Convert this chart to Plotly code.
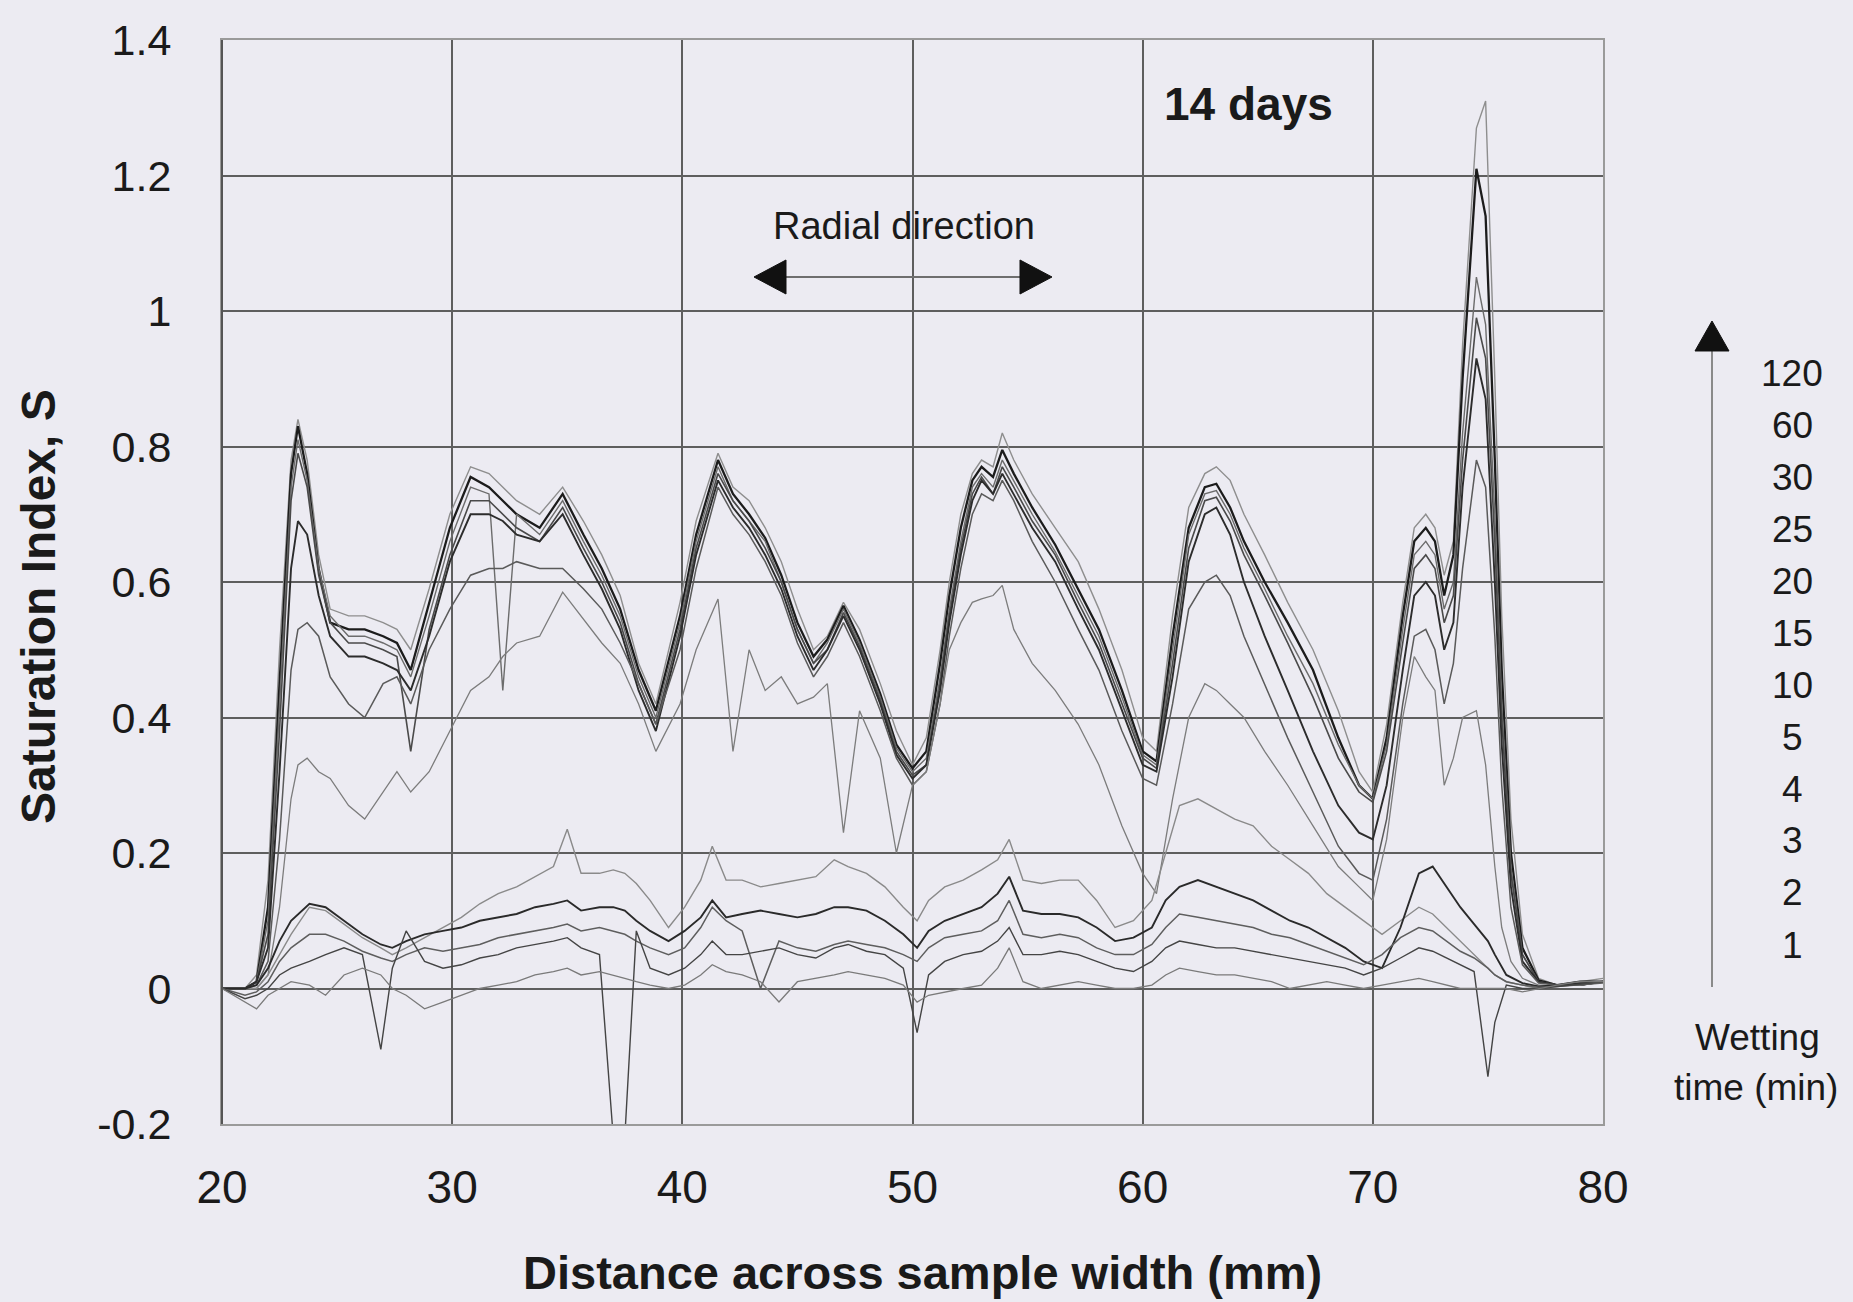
import plotly.graph_objects as go

# ---------------- data ----------------
# shared x grid for the seven upper (long wetting time) profiles, mm
x_upper = [20, 21, 21.5, 22, 22.5, 23, 23.3, 23.7, 24.2, 24.7,
           25.5, 26.2, 27, 27.6, 28.2, 29, 29.9, 30.8, 31.6, 32.2,
           32.8, 33.8, 34.8, 35.7, 36.5, 37.3, 38.1, 38.85, 39.9, 40.6,
           41.55, 42.2, 42.9, 43.6, 44.3, 45, 45.7, 46.3, 47.0, 47.7,
           48.6, 49.3, 50.0, 50.6, 51.2, 51.6, 52.1, 52.6, 53.0, 53.5,
           53.9, 54.4, 55.2, 56.2, 57.2, 58.1, 59.1, 60.0, 60.6, 61.3,
           62.0, 62.7, 63.2, 63.8, 64.4, 65.3, 66.3, 67.4, 68.5, 69.4,
           70.0, 70.6, 71.3, 71.8, 72.3, 72.7, 73.1, 73.5, 73.9, 74.5,
           74.9, 75.3, 75.6, 76.0, 76.5, 77.2, 78, 79, 80]

s_120 = [0.00, 0.00, 0.02, 0.16, 0.50, 0.78, 0.84, 0.78, 0.64, 0.56,
         0.55, 0.55, 0.54, 0.53, 0.50, 0.59, 0.70, 0.77, 0.76, 0.74,
         0.72, 0.70, 0.74, 0.69, 0.64, 0.58, 0.48, 0.42, 0.57, 0.69,
         0.79, 0.74, 0.72, 0.68, 0.63, 0.56, 0.50, 0.52, 0.57, 0.53,
         0.45, 0.38, 0.33, 0.37, 0.50, 0.60, 0.70, 0.76, 0.78, 0.77,
         0.82, 0.78, 0.73, 0.68, 0.63, 0.56, 0.47, 0.37, 0.35, 0.55,
         0.71, 0.76, 0.77, 0.75, 0.70, 0.64, 0.57, 0.50, 0.41, 0.32,
         0.29, 0.39, 0.57, 0.68, 0.70, 0.68, 0.61, 0.66, 0.95, 1.27,
         1.31, 0.90, 0.55, 0.25, 0.08, 0.015, 0.005, 0.01, 0.015]

s_60 = [0.00, 0.00, 0.01, 0.12, 0.45, 0.76, 0.83, 0.76, 0.62, 0.54,
        0.53, 0.53, 0.52, 0.51, 0.47, 0.57, 0.68, 0.755, 0.74, 0.72,
        0.70, 0.68, 0.73, 0.67, 0.62, 0.56, 0.47, 0.41, 0.55, 0.67,
        0.78, 0.73, 0.70, 0.665, 0.61, 0.54, 0.49, 0.515, 0.565, 0.515,
        0.435, 0.36, 0.325, 0.35, 0.48, 0.58, 0.68, 0.75, 0.77, 0.755,
        0.795, 0.76, 0.71, 0.655, 0.59, 0.53, 0.44, 0.35, 0.335, 0.52,
        0.68, 0.74, 0.745, 0.71, 0.66, 0.60, 0.54, 0.47, 0.37, 0.30,
        0.28, 0.37, 0.55, 0.66, 0.68, 0.66, 0.58, 0.64, 0.90, 1.21,
        1.14, 0.78, 0.47, 0.20, 0.06, 0.012, 0.005, 0.01, 0.01]

s_30 = [0.00, 0.00, 0.01, 0.10, 0.42, 0.74, 0.81, 0.75, 0.62, 0.55,
        0.52, 0.52, 0.51, 0.50, 0.46, 0.55, 0.66, 0.74, 0.73, 0.44,
        0.70, 0.67, 0.72, 0.66, 0.61, 0.55, 0.46, 0.40, 0.54, 0.66,
        0.77, 0.72, 0.69, 0.66, 0.60, 0.53, 0.48, 0.51, 0.56, 0.51,
        0.43, 0.355, 0.32, 0.34, 0.46, 0.56, 0.66, 0.74, 0.76, 0.74,
        0.78, 0.75, 0.70, 0.645, 0.58, 0.52, 0.43, 0.345, 0.33, 0.50,
        0.67, 0.73, 0.735, 0.70, 0.65, 0.59, 0.52, 0.45, 0.36, 0.30,
        0.28, 0.36, 0.53, 0.64, 0.66, 0.64, 0.56, 0.60, 0.82, 1.05,
        0.98, 0.70, 0.42, 0.18, 0.05, 0.01, 0.005, 0.005, 0.01]

s_25 = [0.00, 0.00, 0.01, 0.08, 0.38, 0.72, 0.79, 0.74, 0.61, 0.54,
        0.51, 0.51, 0.50, 0.49, 0.35, 0.53, 0.64, 0.72, 0.72, 0.70,
        0.68, 0.66, 0.71, 0.65, 0.60, 0.54, 0.45, 0.39, 0.53, 0.65,
        0.76, 0.72, 0.69, 0.65, 0.60, 0.53, 0.48, 0.50, 0.555, 0.505,
        0.425, 0.35, 0.315, 0.33, 0.45, 0.55, 0.65, 0.73, 0.755, 0.73,
        0.77, 0.74, 0.69, 0.64, 0.57, 0.51, 0.42, 0.34, 0.325, 0.48,
        0.65, 0.72, 0.725, 0.69, 0.64, 0.58, 0.51, 0.43, 0.34, 0.29,
        0.275, 0.35, 0.51, 0.62, 0.64, 0.62, 0.54, 0.58, 0.78, 0.99,
        0.93, 0.66, 0.40, 0.17, 0.05, 0.01, 0.005, 0.005, 0.01]

s_20 = [0.00, 0.00, 0.01, 0.06, 0.32, 0.62, 0.69, 0.67, 0.58, 0.52,
        0.49, 0.49, 0.48, 0.47, 0.44, 0.52, 0.63, 0.70, 0.70, 0.69,
        0.67, 0.66, 0.70, 0.64, 0.59, 0.53, 0.44, 0.38, 0.52, 0.64,
        0.75, 0.71, 0.68, 0.64, 0.59, 0.52, 0.47, 0.50, 0.55, 0.50,
        0.42, 0.345, 0.31, 0.33, 0.44, 0.54, 0.64, 0.72, 0.75, 0.73,
        0.76, 0.73, 0.68, 0.63, 0.56, 0.50, 0.41, 0.33, 0.32, 0.46,
        0.63, 0.70, 0.71, 0.67, 0.60, 0.52, 0.44, 0.35, 0.27, 0.23,
        0.22, 0.30, 0.47, 0.58, 0.60, 0.58, 0.50, 0.54, 0.74, 0.93,
        0.87, 0.60, 0.36, 0.15, 0.04, 0.01, 0.005, 0.005, 0.01]

s_15 = [0.00, 0.00, 0.005, 0.04, 0.22, 0.47, 0.53, 0.54, 0.52, 0.46,
        0.42, 0.40, 0.45, 0.46, 0.42, 0.50, 0.56, 0.61, 0.62, 0.62,
        0.63, 0.62, 0.62, 0.59, 0.56, 0.51, 0.45, 0.39, 0.50, 0.62,
        0.74, 0.70, 0.67, 0.63, 0.58, 0.51, 0.46, 0.49, 0.54, 0.49,
        0.41, 0.34, 0.30, 0.32, 0.42, 0.52, 0.62, 0.70, 0.73, 0.72,
        0.75, 0.72, 0.66, 0.60, 0.53, 0.47, 0.38, 0.31, 0.30, 0.42,
        0.56, 0.60, 0.61, 0.58, 0.52, 0.45, 0.37, 0.29, 0.21, 0.17,
        0.16, 0.25, 0.42, 0.52, 0.53, 0.50, 0.42, 0.48, 0.62, 0.78,
        0.74, 0.52, 0.30, 0.12, 0.035, 0.008, 0.005, 0.005, 0.01]

s_10 = [0.00, 0.00, 0.00, 0.02, 0.12, 0.28, 0.33, 0.34, 0.32, 0.31,
        0.27, 0.25, 0.29, 0.32, 0.29, 0.32, 0.38, 0.44, 0.46, 0.49,
        0.51, 0.52, 0.585, 0.545, 0.51, 0.48, 0.42, 0.35, 0.42, 0.50,
        0.575, 0.35, 0.50, 0.44, 0.46, 0.42, 0.43, 0.45, 0.23, 0.41,
        0.34, 0.20, 0.30, 0.32, 0.42, 0.50, 0.54, 0.57, 0.575, 0.58,
        0.595, 0.53, 0.48, 0.44, 0.39, 0.33, 0.24, 0.17, 0.14, 0.28,
        0.40, 0.45, 0.44, 0.42, 0.40, 0.35, 0.30, 0.24, 0.18, 0.15,
        0.13, 0.22, 0.40, 0.49, 0.46, 0.44, 0.30, 0.34, 0.40, 0.41,
        0.33, 0.18, 0.09, 0.04, 0.015, 0.005, 0.005, 0.005, 0.01]

# shared x grid for the five lower (short wetting time) profiles, mm
x_lower = [20, 21, 21.5, 22, 22.5, 23, 23.8, 24.5, 25.3, 26.1,
           26.9, 27.4, 28, 28.8, 29.6, 30.4, 31.2, 32, 32.8, 33.6,
           34.4, 35, 35.6, 36.4, 37.0, 37.5, 38.0, 38.6, 39.4, 40.1,
           40.8, 41.3, 41.9, 42.6, 43.4, 44.2, 45, 45.8, 46.6, 47.2,
           48, 48.8, 49.6, 50.2, 50.7, 51.4, 52.2, 53, 53.7, 54.2,
           54.8, 55.6, 56.4, 57.2, 58, 58.8, 59.6, 60.4, 61, 61.6,
           62.4, 63.2, 64, 64.8, 65.6, 66.4, 67.2, 68, 68.8, 69.6,
           70.4, 71.2, 72, 72.6, 73.2, 73.8, 74.4, 75.0, 75.3, 75.8,
           76.5, 77.2, 78, 79, 80]

s_5 = [0.0, 0.0, 0.0, 0.02, 0.05, 0.08, 0.12, 0.115, 0.095, 0.075,
       0.06, 0.05, 0.06, 0.075, 0.09, 0.105, 0.125, 0.14, 0.15, 0.165,
       0.18, 0.235, 0.17, 0.17, 0.175, 0.17, 0.155, 0.13, 0.09, 0.12,
       0.16, 0.21, 0.16, 0.16, 0.15, 0.155, 0.16, 0.165, 0.19, 0.18,
       0.17, 0.15, 0.12, 0.10, 0.13, 0.15, 0.16, 0.175, 0.19, 0.22,
       0.16, 0.155, 0.16, 0.16, 0.13, 0.09, 0.10, 0.13, 0.20, 0.27,
       0.28, 0.265, 0.25, 0.24, 0.21, 0.19, 0.17, 0.14, 0.12, 0.10,
       0.08, 0.10, 0.12, 0.11, 0.09, 0.07, 0.05, 0.03, 0.02, 0.01,
       0.005, 0.0, 0.005, 0.01, 0.01]

s_4 = [0.0, 0.0, 0.005, 0.03, 0.07, 0.10, 0.125, 0.12, 0.10, 0.08,
       0.065, 0.06, 0.07, 0.08, 0.085, 0.09, 0.10, 0.105, 0.11, 0.12,
       0.125, 0.13, 0.115, 0.12, 0.12, 0.115, 0.10, 0.085, 0.07, 0.085,
       0.105, 0.13, 0.105, 0.11, 0.115, 0.11, 0.105, 0.11, 0.12, 0.12,
       0.115, 0.10, 0.08, 0.06, 0.085, 0.10, 0.11, 0.12, 0.14, 0.165,
       0.115, 0.11, 0.11, 0.105, 0.09, 0.07, 0.075, 0.09, 0.13, 0.15,
       0.16, 0.15, 0.14, 0.13, 0.115, 0.10, 0.09, 0.075, 0.06, 0.04,
       0.03, 0.09, 0.17, 0.18, 0.15, 0.12, 0.095, 0.07, 0.05, 0.02,
       0.008, 0.003, 0.005, 0.008, 0.01]

s_3 = [0.0, -0.01, -0.005, 0.01, 0.04, 0.06, 0.08, 0.08, 0.07, 0.055,
       0.045, 0.04, 0.05, 0.06, 0.055, 0.06, 0.065, 0.075, 0.08, 0.085,
       0.09, 0.095, 0.085, 0.09, 0.085, 0.08, 0.07, 0.06, 0.05, 0.06,
       0.09, 0.12, 0.10, 0.085, 0.0, 0.07, 0.06, 0.055, 0.065, 0.07,
       0.065, 0.06, 0.05, 0.04, 0.06, 0.075, 0.08, 0.085, 0.10, 0.13,
       0.08, 0.075, 0.08, 0.075, 0.06, 0.05, 0.05, 0.065, 0.09, 0.11,
       0.105, 0.10, 0.095, 0.09, 0.08, 0.075, 0.065, 0.055, 0.045, 0.035,
       0.05, 0.075, 0.09, 0.085, 0.07, 0.055, 0.045, 0.03, 0.02, 0.01,
       0.005, 0.002, 0.003, 0.005, 0.008]

s_2 = [0.0, -0.015, -0.01, 0.0, 0.02, 0.03, 0.04, 0.05, 0.06, 0.05,
       -0.09, 0.03, 0.085, 0.04, 0.03, 0.035, 0.045, 0.05, 0.06, 0.065,
       0.07, 0.075, 0.06, 0.05, -0.22, -0.22, 0.085, 0.03, 0.02, 0.03,
       0.05, 0.07, 0.05, 0.05, 0.055, 0.06, 0.05, 0.045, 0.06, 0.065,
       0.055, 0.05, 0.03, -0.065, 0.02, 0.04, 0.05, 0.055, 0.07, 0.09,
       0.05, 0.05, 0.055, 0.05, 0.04, 0.03, 0.025, 0.04, 0.06, 0.07,
       0.065, 0.06, 0.06, 0.055, 0.05, 0.045, 0.04, 0.035, 0.03, 0.02,
       0.03, 0.045, 0.06, 0.055, 0.045, 0.035, 0.025, -0.13, -0.05, 0.005,
       0.0, 0.0, 0.003, 0.006, 0.01]

s_1 = [0.0, -0.02, -0.03, -0.01, 0.0, 0.01, 0.005, -0.01, 0.02, 0.03,
       0.02, 0.0, -0.01, -0.03, -0.02, -0.01, 0.0, 0.005, 0.01, 0.02,
       0.025, 0.03, 0.02, 0.025, 0.02, 0.015, 0.01, 0.005, 0.0, 0.005,
       0.02, 0.035, 0.025, 0.02, 0.01, -0.02, 0.01, 0.015, 0.02, 0.025,
       0.02, 0.015, 0.005, -0.02, -0.01, -0.005, 0.0, 0.005, 0.03, 0.06,
       0.01, 0.0, 0.005, 0.01, 0.005, 0.0, 0.0, 0.005, 0.02, 0.03,
       0.025, 0.02, 0.02, 0.015, 0.01, 0.0, 0.005, 0.01, 0.005, 0.0,
       0.005, 0.01, 0.015, 0.01, 0.005, 0.0, 0.0, 0.0, 0.0, 0.0,
       -0.005, 0.0, 0.005, 0.01, 0.01]

wetting_labels = ["120", "60", "30", "25", "20", "15", "10", "5", "4", "3", "2", "1"]
x_ticks = [20, 30, 40, 50, 60, 70, 80]
y_ticks = [-0.2, 0, 0.2, 0.4, 0.6, 0.8, 1, 1.2, 1.4]
y_tick_text = ["-0.2", "0", "0.2", "0.4", "0.6", "0.8", "1", "1.2", "1.4"]

# ---------------- styling ----------------
series = [
    ("120", x_upper, s_120, "#8e8e8e", 1.4),
    ("60", x_upper, s_60, "#1c1c1c", 2.3),
    ("30", x_upper, s_30, "#6c6c6c", 1.4),
    ("25", x_upper, s_25, "#4a4a4a", 1.6),
    ("20", x_upper, s_20, "#2c2c2c", 1.9),
    ("15", x_upper, s_15, "#5a5a5a", 1.5),
    ("10", x_upper, s_10, "#7c7c7c", 1.3),
    ("5", x_lower, s_5, "#8a8a8a", 1.4),
    ("4", x_lower, s_4, "#2a2a2a", 1.9),
    ("3", x_lower, s_3, "#5e5e5e", 1.5),
    ("2", x_lower, s_2, "#444444", 1.4),
    ("1", x_lower, s_1, "#7a7a7a", 1.3),
]

BG = "#ecebf2"
FONT = "Liberation Sans, Arial, sans-serif"
TXT = "#1a1a1a"

W, H = 1853, 1302
L, R, T, B = 222, 1603, 40, 1124


def px(x):
    return (x - L) / (R - L)


def py(y):
    return (B - y) / (B - T)


fig = go.Figure()
for name, xs, ys, col, wd in series:
    fig.add_trace(go.Scatter(x=xs, y=ys, mode="lines", name=name + " min",
                             line=dict(color=col, width=wd),
                             hoverinfo="skip", showlegend=False))

fig.update_layout(
    width=W, height=H,
    margin=dict(l=L, r=W - R, t=T, b=H - B, pad=0),
    paper_bgcolor=BG, plot_bgcolor=BG,
    font=dict(family=FONT, color=TXT),
    showlegend=False,
)
fig.update_xaxes(range=[20, 80], tickvals=x_ticks, ticktext=[str(v) for v in x_ticks],
                 showgrid=True, gridcolor="#5e5e5e", gridwidth=1.6,
                 zeroline=False, showline=True, linecolor="#9a9a9a", linewidth=2, mirror=True,
                 ticks="", tickfont=dict(size=46, family=FONT, color=TXT),
                 ticklabelstandoff=22)
fig.update_yaxes(range=[-0.2, 1.4], tickvals=y_ticks, ticktext=y_tick_text,
                 showgrid=True, gridcolor="#5e5e5e", gridwidth=1.6,
                 zeroline=False, showline=True, linecolor="#9a9a9a", linewidth=2, mirror=True,
                 ticks="", tickfont=dict(size=43, family=FONT, color=TXT),
                 ticklabelstandoff=40)

# left border is dark in the original
fig.add_shape(type="line", xref="paper", yref="paper", x0=0, x1=0, y0=0, y1=1,
              line=dict(color="#555555", width=2))

ann = []
# axis titles
ann.append(dict(text="<b>Saturation Index, S</b>", xref="paper", yref="paper",
                x=px(38), y=py(607), textangle=-90, showarrow=False,
                font=dict(size=48, family=FONT, color=TXT),
                xanchor="center", yanchor="middle"))
ann.append(dict(text="<b>Distance across sample width (mm)</b>", xref="paper", yref="paper",
                x=px(922), y=py(1272), showarrow=False,
                font=dict(size=47, family=FONT, color=TXT),
                xanchor="center", yanchor="middle"))
ann.append(dict(text="<b>14 days</b>", xref="paper", yref="paper",
                x=px(1248), y=py(104), showarrow=False,
                font=dict(size=46, family=FONT, color=TXT),
                xanchor="center", yanchor="middle"))
ann.append(dict(text="Radial direction", xref="paper", yref="paper",
                x=px(904), y=py(226), showarrow=False,
                font=dict(size=38, family=FONT, color=TXT),
                xanchor="center", yanchor="middle"))
# wetting time labels
label_y = [373, 425, 477, 529, 581, 633, 685, 737, 789, 841, 893, 945]
for lab, yy in zip(wetting_labels, label_y):
    ann.append(dict(text=lab, xref="paper", yref="paper", x=px(1792), y=py(yy),
                    showarrow=False, font=dict(size=37, family=FONT, color=TXT),
                    xanchor="center", yanchor="middle"))
ann.append(dict(text="Wetting", xref="paper", yref="paper", x=px(1757), y=py(1037),
                showarrow=False, font=dict(size=37, family=FONT, color=TXT),
                xanchor="center", yanchor="middle"))
ann.append(dict(text="time (min)", xref="paper", yref="paper", x=px(1756), y=py(1087),
                showarrow=False, font=dict(size=37, family=FONT, color=TXT),
                xanchor="center", yanchor="middle"))
fig.update_layout(annotations=ann)


def tri(points):
    p = " L ".join(f"{px(a):.5f},{py(b):.5f}" for a, b in points)
    return "M " + p + " Z"


# radial direction double arrow
fig.add_shape(type="line", xref="paper", yref="paper",
              x0=px(784), x1=px(1021), y0=py(277), y1=py(277),
              line=dict(color="#6e6e6e", width=2))
fig.add_shape(type="path", xref="paper", yref="paper",
              path=tri([(754, 277), (786, 260), (786, 294)]),
              fillcolor="#111111", line=dict(color="#111111", width=1))
fig.add_shape(type="path", xref="paper", yref="paper",
              path=tri([(1052, 277), (1020, 260), (1020, 294)]),
              fillcolor="#111111", line=dict(color="#111111", width=1))
# wetting time arrow
fig.add_shape(type="line", xref="paper", yref="paper",
              x0=px(1712), x1=px(1712), y0=py(987), y1=py(348),
              line=dict(color="#8a8a8a", width=2))
fig.add_shape(type="path", xref="paper", yref="paper",
              path=tri([(1712, 321), (1695, 351), (1729, 351)]),
              fillcolor="#111111", line=dict(color="#111111", width=1))

fig.write_html("out.html",
               config={"displayModeBar": False},
               post_script="document.body.style.margin='0px';"
                           "document.body.style.overflow='hidden';"
                           "document.body.style.background='" + BG + "';")
